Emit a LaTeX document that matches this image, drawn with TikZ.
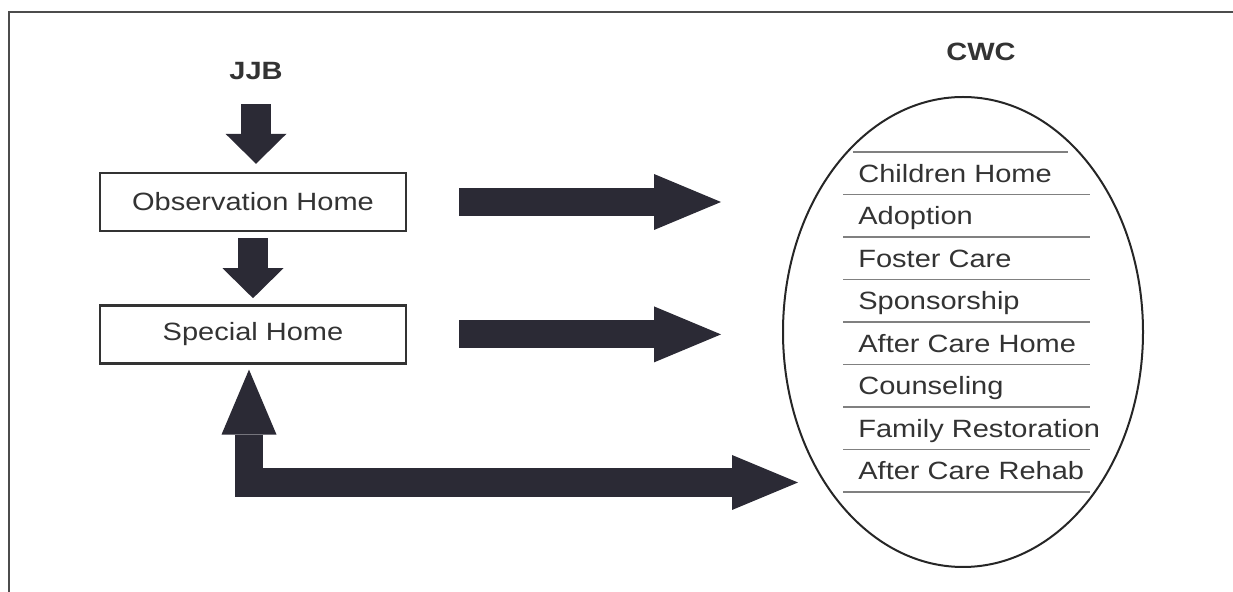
\documentclass[tikz,border=0pt]{standalone}
\usepackage{fontspec}
\newfontfamily\figfont[FakeStretch=1.16]{Liberation Sans}
\usetikzlibrary{positioning}
\usetikzlibrary{shapes.geometric}
\usetikzlibrary{arrows.meta}
\definecolor{arrowfill}{RGB}{43,42,53}
\definecolor{inkgray}{RGB}{51,51,51}

\begin{document}
\begin{tikzpicture}[x=0.5pt, y=-0.5pt,
labelnode/.style={font=\figfont\bfseries\fontsize{12.5}{15}\selectfont, text=inkgray, inner sep=0pt},
homebox/.style={rectangle, draw=inkgray, line width=1.2pt, fill=white, minimum width=153pt, minimum height=29pt, font=\figfont\fontsize{12.5}{15}\selectfont, text=inkgray},
cwcshape/.style={ellipse, draw=black!85, line width=1pt, minimum width=180pt, minimum height=235pt, inner sep=0pt},
serviceitem/.style={anchor=base west, inner sep=0pt, font=\figfont\fontsize{12.5}{15}\selectfont, text=inkgray},
listrule/.style={draw=black!50, line width=0.9pt},
framerule/.style={draw=black!70, line width=1.4pt},
downflow/.style={draw=arrowfill, line width=15pt, -{Triangle[length=15pt, width=30.5pt, line width=0pt]}},
sideflow/.style={draw=arrowfill, line width=14pt, -{Triangle[length=33.5pt, width=28pt, line width=0pt]}},
backflow/.style={draw=arrowfill, line width=14.25pt, {Triangle[length=32.5pt, width=27.5pt, line width=0pt]}-{Triangle[length=33pt, width=27.5pt, line width=0pt]}}]
\useasboundingbox (0,0) rectangle (1233,592);

% outer frame
\draw[framerule] (9,592) -- (9,12) -- (1233,12);

\node[labelnode] (jjb) at (256,71) {JJB};
\node[homebox] (obs) at (253,202) {Observation Home};
\node[homebox] (special) [below=36pt of obs] {Special Home};

\node[cwcshape] (cwc) at (963,332) {};
\node[labelnode] (cwclabel) at (981,52) {CWC};

% services inside the ellipse
\draw[listrule] (853,152) -- (1068,152);
\foreach \k in {1,...,8}
  \draw[listrule] (843,152+42.5*\k) -- (1090,152+42.5*\k);
\foreach \service [count=\i] in {Children Home, Adoption, Foster Care, Sponsorship, After Care Home, Counseling, Family Restoration, After Care Rehab}
  \node[serviceitem] (service\i) at (858,139.75+42.5*\i) {\service};

\coordinate (cwcentry) at (798,482.5);

\draw[downflow, shorten <=12pt, shorten >=4pt] (jjb.south) -- (jjb.south |- obs.north);
\draw[downflow, shorten <=3pt, shorten >=3pt] (obs.south) -- (special.north);
\draw[sideflow, shorten <=26pt, shorten >=30.5pt] (obs.east) -- (obs.east -| cwc.west);
\draw[sideflow, shorten <=26pt, shorten >=30.5pt] (special.east) -- (special.east -| cwc.west);
\draw[backflow, shorten <=2.5pt] ([xshift=-2pt]special.south) |- (cwcentry);
\end{tikzpicture}
\end{document}
